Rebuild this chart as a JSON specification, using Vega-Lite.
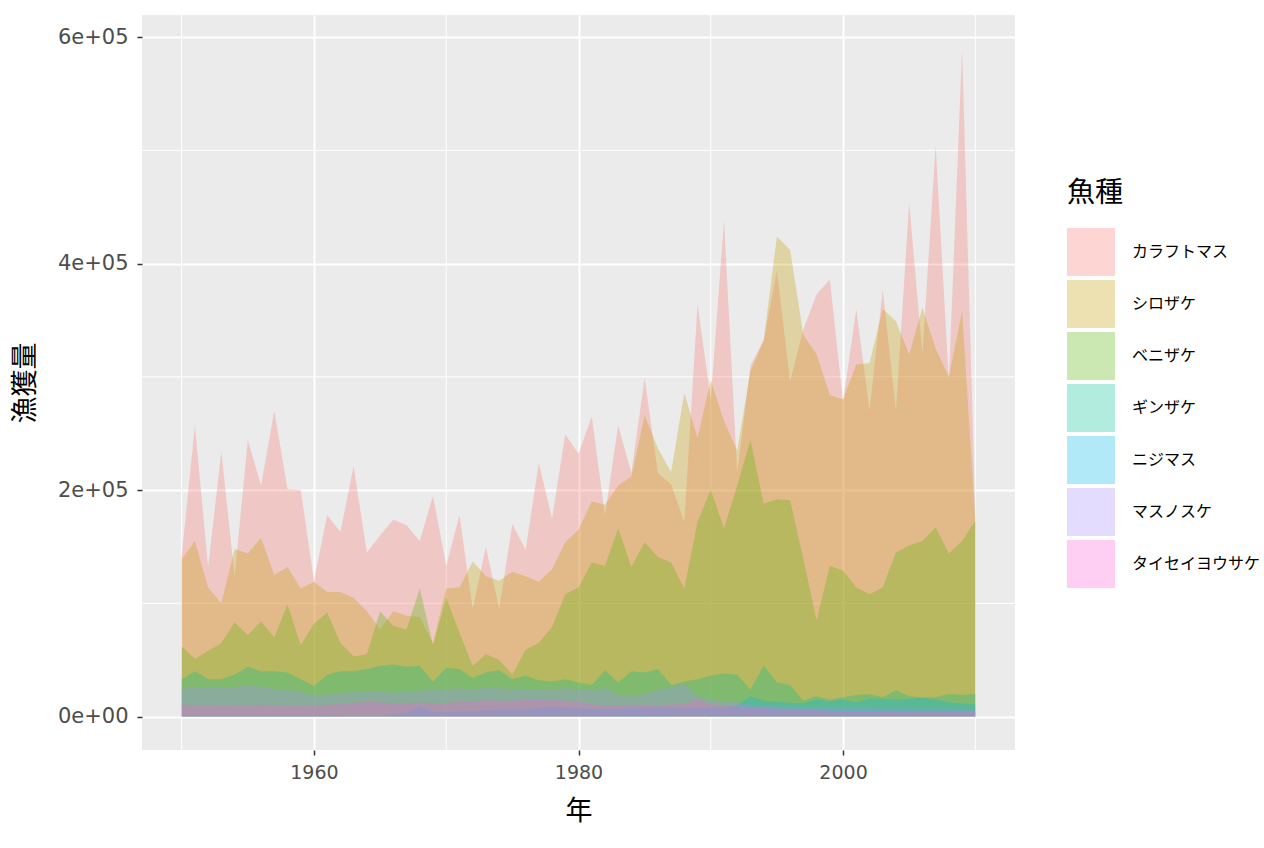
{
  "$schema": "https://vega.github.io/schema/vega-lite/v6.json",
  "width": 873,
  "height": 735,
  "autosize": {"type": "none"},
  "padding": {"left": 142, "top": 15, "right": 249, "bottom": 98},
  "background": "white",
  "config": {
    "view": {"fill": "#EBEBEB", "stroke": null},
    "axis": {
      "domain": false,
      "grid": true,
      "gridColor": "#FFFFFF",
      "gridWidth": 2,
      "tickColor": "#333333",
      "tickWidth": 1.5,
      "tickSize": 5,
      "labelColor": "#4D4D4D",
      "labelFont": "DejaVu Sans",
      "titleFont": "Noto Sans CJK JP",
      "titleFontWeight": "normal",
      "titleColor": "#000000",
      "titleFontSize": 27
    },
    "axisX": {"labelFontSize": 19, "labelPadding": 8, "titlePadding": 16, "labelFlush": false},
    "axisY": {"labelFontSize": 21, "labelPadding": 9, "titlePadding": 18}
  },
  "datasets": {
    "karafuto": [
      {"year":1950,"catch":142000},{"year":1951,"catch":257000},{"year":1952,"catch":132000},{"year":1953,"catch":234000},{"year":1954,"catch":124000},
      {"year":1955,"catch":244000},{"year":1956,"catch":204000},{"year":1957,"catch":270000},{"year":1958,"catch":201000},{"year":1959,"catch":200000},
      {"year":1960,"catch":120000},{"year":1961,"catch":178000},{"year":1962,"catch":163000},{"year":1963,"catch":221000},{"year":1964,"catch":145000},
      {"year":1965,"catch":160000},{"year":1966,"catch":174000},{"year":1967,"catch":169000},{"year":1968,"catch":155000},{"year":1969,"catch":195000},
      {"year":1970,"catch":133000},{"year":1971,"catch":178000},{"year":1972,"catch":95000},{"year":1973,"catch":150000},{"year":1974,"catch":95000},
      {"year":1975,"catch":170000},{"year":1976,"catch":147000},{"year":1977,"catch":224000},{"year":1978,"catch":175000},{"year":1979,"catch":249000},
      {"year":1980,"catch":232000},{"year":1981,"catch":265000},{"year":1982,"catch":178000},{"year":1983,"catch":257000},{"year":1984,"catch":215000},
      {"year":1985,"catch":299000},{"year":1986,"catch":215000},{"year":1987,"catch":205000},{"year":1988,"catch":172000},{"year":1989,"catch":364000},
      {"year":1990,"catch":280000},{"year":1991,"catch":438000},{"year":1992,"catch":215000},{"year":1993,"catch":310000},{"year":1994,"catch":332000},
      {"year":1995,"catch":394000},{"year":1996,"catch":296000},{"year":1997,"catch":342000},{"year":1998,"catch":373000},{"year":1999,"catch":386000},
      {"year":2000,"catch":278000},{"year":2001,"catch":360000},{"year":2002,"catch":270000},{"year":2003,"catch":377000},{"year":2004,"catch":270000},
      {"year":2005,"catch":454000},{"year":2006,"catch":320000},{"year":2007,"catch":504000},{"year":2008,"catch":297000},{"year":2009,"catch":589000},
      {"year":2010,"catch":178000}
    ],
    "shiro": [
      {"year":1950,"catch":139000},{"year":1951,"catch":155000},{"year":1952,"catch":114000},{"year":1953,"catch":100000},{"year":1954,"catch":148000},
      {"year":1955,"catch":144000},{"year":1956,"catch":158000},{"year":1957,"catch":125000},{"year":1958,"catch":132000},{"year":1959,"catch":113000},
      {"year":1960,"catch":119000},{"year":1961,"catch":110000},{"year":1962,"catch":110000},{"year":1963,"catch":105000},{"year":1964,"catch":93000},
      {"year":1965,"catch":77000},{"year":1966,"catch":93000},{"year":1967,"catch":89000},{"year":1968,"catch":88000},{"year":1969,"catch":65000},
      {"year":1970,"catch":113000},{"year":1971,"catch":114000},{"year":1972,"catch":137000},{"year":1973,"catch":124000},{"year":1974,"catch":120000},
      {"year":1975,"catch":128000},{"year":1976,"catch":124000},{"year":1977,"catch":119000},{"year":1978,"catch":130000},{"year":1979,"catch":154000},
      {"year":1980,"catch":165000},{"year":1981,"catch":190000},{"year":1982,"catch":187000},{"year":1983,"catch":204000},{"year":1984,"catch":212000},
      {"year":1985,"catch":266000},{"year":1986,"catch":237000},{"year":1987,"catch":216000},{"year":1988,"catch":286000},{"year":1989,"catch":246000},
      {"year":1990,"catch":297000},{"year":1991,"catch":261000},{"year":1992,"catch":235000},{"year":1993,"catch":305000},{"year":1994,"catch":332000},
      {"year":1995,"catch":424000},{"year":1996,"catch":412000},{"year":1997,"catch":337000},{"year":1998,"catch":320000},{"year":1999,"catch":284000},
      {"year":2000,"catch":280000},{"year":2001,"catch":311000},{"year":2002,"catch":312000},{"year":2003,"catch":360000},{"year":2004,"catch":349000},
      {"year":2005,"catch":320000},{"year":2006,"catch":361000},{"year":2007,"catch":325000},{"year":2008,"catch":300000},{"year":2009,"catch":358000},
      {"year":2010,"catch":175000}
    ],
    "beni": [
      {"year":1950,"catch":62000},{"year":1951,"catch":51000},{"year":1952,"catch":58000},{"year":1953,"catch":65000},{"year":1954,"catch":83000},
      {"year":1955,"catch":72000},{"year":1956,"catch":84000},{"year":1957,"catch":70000},{"year":1958,"catch":99000},{"year":1959,"catch":63000},
      {"year":1960,"catch":82000},{"year":1961,"catch":92000},{"year":1962,"catch":65000},{"year":1963,"catch":53000},{"year":1964,"catch":55000},
      {"year":1965,"catch":93000},{"year":1966,"catch":80000},{"year":1967,"catch":77000},{"year":1968,"catch":113000},{"year":1969,"catch":63000},
      {"year":1970,"catch":105000},{"year":1971,"catch":74000},{"year":1972,"catch":45000},{"year":1973,"catch":55000},{"year":1974,"catch":50000},
      {"year":1975,"catch":37000},{"year":1976,"catch":59000},{"year":1977,"catch":65000},{"year":1978,"catch":79000},{"year":1979,"catch":108000},
      {"year":1980,"catch":114000},{"year":1981,"catch":136000},{"year":1982,"catch":133000},{"year":1983,"catch":166000},{"year":1984,"catch":132000},
      {"year":1985,"catch":154000},{"year":1986,"catch":141000},{"year":1987,"catch":136000},{"year":1988,"catch":113000},{"year":1989,"catch":172000},
      {"year":1990,"catch":200000},{"year":1991,"catch":166000},{"year":1992,"catch":204000},{"year":1993,"catch":244000},{"year":1994,"catch":188000},
      {"year":1995,"catch":192000},{"year":1996,"catch":191000},{"year":1997,"catch":139000},{"year":1998,"catch":85000},{"year":1999,"catch":133000},
      {"year":2000,"catch":129000},{"year":2001,"catch":114000},{"year":2002,"catch":108000},{"year":2003,"catch":114000},{"year":2004,"catch":145000},
      {"year":2005,"catch":151000},{"year":2006,"catch":155000},{"year":2007,"catch":167000},{"year":2008,"catch":144000},{"year":2009,"catch":155000},
      {"year":2010,"catch":173000}
    ],
    "gin": [
      {"year":1950,"catch":33000},{"year":1951,"catch":40000},{"year":1952,"catch":33000},{"year":1953,"catch":33000},{"year":1954,"catch":37000},
      {"year":1955,"catch":44000},{"year":1956,"catch":40000},{"year":1957,"catch":40000},{"year":1958,"catch":39000},{"year":1959,"catch":33000},
      {"year":1960,"catch":27000},{"year":1961,"catch":37000},{"year":1962,"catch":40000},{"year":1963,"catch":40000},{"year":1964,"catch":42000},
      {"year":1965,"catch":45000},{"year":1966,"catch":46000},{"year":1967,"catch":44000},{"year":1968,"catch":45000},{"year":1969,"catch":31000},
      {"year":1970,"catch":43000},{"year":1971,"catch":42000},{"year":1972,"catch":34000},{"year":1973,"catch":39000},{"year":1974,"catch":41000},
      {"year":1975,"catch":33000},{"year":1976,"catch":36000},{"year":1977,"catch":32000},{"year":1978,"catch":31000},{"year":1979,"catch":33000},
      {"year":1980,"catch":30000},{"year":1981,"catch":28000},{"year":1982,"catch":41000},{"year":1983,"catch":30000},{"year":1984,"catch":40000},
      {"year":1985,"catch":39000},{"year":1986,"catch":42000},{"year":1987,"catch":28000},{"year":1988,"catch":31000},{"year":1989,"catch":33000},
      {"year":1990,"catch":36000},{"year":1991,"catch":38000},{"year":1992,"catch":37000},{"year":1993,"catch":24000},{"year":1994,"catch":45000},
      {"year":1995,"catch":30000},{"year":1996,"catch":28000},{"year":1997,"catch":14000},{"year":1998,"catch":18000},{"year":1999,"catch":15000},
      {"year":2000,"catch":17000},{"year":2001,"catch":19000},{"year":2002,"catch":20000},{"year":2003,"catch":17000},{"year":2004,"catch":23000},
      {"year":2005,"catch":18000},{"year":2006,"catch":17000},{"year":2007,"catch":17000},{"year":2008,"catch":20000},{"year":2009,"catch":19000},
      {"year":2010,"catch":20000}
    ],
    "niji": [
      {"year":1950,"catch":1000},{"year":1951,"catch":1000},{"year":1952,"catch":1000},{"year":1953,"catch":1000},{"year":1954,"catch":1000},
      {"year":1955,"catch":1000},{"year":1956,"catch":1000},{"year":1957,"catch":1000},{"year":1958,"catch":1000},{"year":1959,"catch":1000},
      {"year":1960,"catch":1000},{"year":1961,"catch":1000},{"year":1962,"catch":1000},{"year":1963,"catch":1000},{"year":1964,"catch":1000},
      {"year":1965,"catch":1000},{"year":1966,"catch":2000},{"year":1967,"catch":4000},{"year":1968,"catch":9000},{"year":1969,"catch":4000},
      {"year":1970,"catch":4000},{"year":1971,"catch":4500},{"year":1972,"catch":5000},{"year":1973,"catch":5500},{"year":1974,"catch":6000},
      {"year":1975,"catch":6000},{"year":1976,"catch":6500},{"year":1977,"catch":7500},{"year":1978,"catch":9000},{"year":1979,"catch":8000},
      {"year":1980,"catch":7500},{"year":1981,"catch":7000},{"year":1982,"catch":7000},{"year":1983,"catch":7000},{"year":1984,"catch":7500},
      {"year":1985,"catch":8000},{"year":1986,"catch":8000},{"year":1987,"catch":8000},{"year":1988,"catch":7000},{"year":1989,"catch":8000},
      {"year":1990,"catch":8000},{"year":1991,"catch":8000},{"year":1992,"catch":10000},{"year":1993,"catch":18000},{"year":1994,"catch":14000},
      {"year":1995,"catch":13000},{"year":1996,"catch":12000},{"year":1997,"catch":12000},{"year":1998,"catch":15000},{"year":1999,"catch":13600},
      {"year":2000,"catch":15000},{"year":2001,"catch":12700},{"year":2002,"catch":15700},{"year":2003,"catch":15700},{"year":2004,"catch":15000},
      {"year":2005,"catch":15700},{"year":2006,"catch":16600},{"year":2007,"catch":15000},{"year":2008,"catch":12700},{"year":2009,"catch":11500},
      {"year":2010,"catch":10600}
    ],
    "masu": [
      {"year":1950,"catch":24500},{"year":1951,"catch":25600},{"year":1952,"catch":25600},{"year":1953,"catch":25000},{"year":1954,"catch":25600},
      {"year":1955,"catch":28000},{"year":1956,"catch":26600},{"year":1957,"catch":24500},{"year":1958,"catch":23600},{"year":1959,"catch":22000},
      {"year":1960,"catch":19000},{"year":1961,"catch":19500},{"year":1962,"catch":20400},{"year":1963,"catch":22000},{"year":1964,"catch":22000},
      {"year":1965,"catch":22000},{"year":1966,"catch":21000},{"year":1967,"catch":22000},{"year":1968,"catch":23000},{"year":1969,"catch":24000},
      {"year":1970,"catch":24000},{"year":1971,"catch":25000},{"year":1972,"catch":24000},{"year":1973,"catch":25400},{"year":1974,"catch":25000},
      {"year":1975,"catch":24000},{"year":1976,"catch":24000},{"year":1977,"catch":23600},{"year":1978,"catch":24000},{"year":1979,"catch":25000},
      {"year":1980,"catch":24000},{"year":1981,"catch":23600},{"year":1982,"catch":25000},{"year":1983,"catch":19500},{"year":1984,"catch":18000},
      {"year":1985,"catch":20000},{"year":1986,"catch":23600},{"year":1987,"catch":26000},{"year":1988,"catch":29000},{"year":1989,"catch":18000},
      {"year":1990,"catch":15000},{"year":1991,"catch":13600},{"year":1992,"catch":12700},{"year":1993,"catch":10600},{"year":1994,"catch":9500},
      {"year":1995,"catch":9000},{"year":1996,"catch":9000},{"year":1997,"catch":8500},{"year":1998,"catch":8000},{"year":1999,"catch":8000},
      {"year":2000,"catch":7500},{"year":2001,"catch":7500},{"year":2002,"catch":7500},{"year":2003,"catch":7000},{"year":2004,"catch":7000},
      {"year":2005,"catch":7000},{"year":2006,"catch":7000},{"year":2007,"catch":7000},{"year":2008,"catch":7000},{"year":2009,"catch":6500},
      {"year":2010,"catch":6500}
    ],
    "taisei": [
      {"year":1950,"catch":10600},{"year":1951,"catch":10000},{"year":1952,"catch":10000},{"year":1953,"catch":9500},{"year":1954,"catch":10000},
      {"year":1955,"catch":10000},{"year":1956,"catch":10500},{"year":1957,"catch":10000},{"year":1958,"catch":10000},{"year":1959,"catch":9500},
      {"year":1960,"catch":10000},{"year":1961,"catch":10500},{"year":1962,"catch":11000},{"year":1963,"catch":12000},{"year":1964,"catch":13600},
      {"year":1965,"catch":12500},{"year":1966,"catch":12000},{"year":1967,"catch":12000},{"year":1968,"catch":12500},{"year":1969,"catch":12000},
      {"year":1970,"catch":12000},{"year":1971,"catch":13000},{"year":1972,"catch":13500},{"year":1973,"catch":14500},{"year":1974,"catch":14000},
      {"year":1975,"catch":14000},{"year":1976,"catch":15000},{"year":1977,"catch":15000},{"year":1978,"catch":15000},{"year":1979,"catch":14000},
      {"year":1980,"catch":13000},{"year":1981,"catch":11000},{"year":1982,"catch":10000},{"year":1983,"catch":10000},{"year":1984,"catch":10000},
      {"year":1985,"catch":10600},{"year":1986,"catch":10000},{"year":1987,"catch":10600},{"year":1988,"catch":11000},{"year":1989,"catch":15000},
      {"year":1990,"catch":11000},{"year":1991,"catch":10000},{"year":1992,"catch":9000},{"year":1993,"catch":8000},{"year":1994,"catch":7500},
      {"year":1995,"catch":7000},{"year":1996,"catch":6500},{"year":1997,"catch":6000},{"year":1998,"catch":5500},{"year":1999,"catch":5000},
      {"year":2000,"catch":5000},{"year":2001,"catch":4500},{"year":2002,"catch":4500},{"year":2003,"catch":4000},{"year":2004,"catch":4000},
      {"year":2005,"catch":4000},{"year":2006,"catch":4000},{"year":2007,"catch":4000},{"year":2008,"catch":4000},{"year":2009,"catch":4000},
      {"year":2010,"catch":4000}
    ]
  },
  "layer": [
    {
      "data": {"values": [{"year": 1950}, {"year": 1970}, {"year": 1990}, {"year": 2010}]},
      "mark": {"type": "rule", "color": "#FFFFFF", "strokeWidth": 1},
      "encoding": {
        "x": {
          "field": "year",
          "type": "quantitative",
          "title": "年",
          "scale": {"domain": [1947, 2013], "nice": false, "zero": false},
          "axis": {"values": [1960, 1980, 2000], "format": "d"}
        }
      }
    },
    {
      "data": {"values": [{"catch": 100000}, {"catch": 300000}, {"catch": 500000}]},
      "mark": {"type": "rule", "color": "#FFFFFF", "strokeWidth": 1},
      "encoding": {
        "y": {
          "field": "catch",
          "type": "quantitative",
          "title": "漁獲量",
          "scale": {"domain": [-29500, 619500], "nice": false, "zero": false},
          "axis": {
            "values": [0, 200000, 400000, 600000],
            "labelExpr": "datum.value == 0 ? '0e+00' : format(datum.value / 100000, 'd') + 'e+05'"
          }
        }
      }
    },
    {
      "data": {"name": "karafuto"},
      "mark": {"type": "area", "opacity": 0.3},
      "encoding": {
        "x": {"field": "year", "type": "quantitative", "title": "年"},
        "y": {"field": "catch", "type": "quantitative", "title": "漁獲量", "stack": null},
        "color": {
          "datum": "カラフトマス",
          "type": "nominal",
          "scale": {
            "domain": ["カラフトマス", "シロザケ", "ベニザケ", "ギンザケ", "ニジマス", "マスノスケ", "タイセイヨウサケ"],
            "range": ["#F8766D", "#C49A00", "#53B400", "#00C094", "#00B6EB", "#A58AFF", "#FB61D7"]
          },
          "legend": {
            "title": "魚種",
            "orient": "none",
            "legendX": 925,
            "legendY": 165,
            "padding": 0,
            "titleFont": "Noto Sans CJK JP",
            "titleFontSize": 28,
            "titleFontWeight": "normal",
            "titleColor": "#000000",
            "titlePadding": 20,
            "labelFont": "Noto Sans CJK JP",
            "labelFontSize": 16,
            "labelColor": "#000000",
            "labelOffset": 17,
            "labelLimit": 200,
            "symbolType": "square",
            "symbolSize": 2304,
            "symbolOpacity": 0.36,
            "symbolStrokeWidth": 0,
            "rowPadding": 4
          }
        }
      }
    },
    {
      "data": {"name": "shiro"},
      "mark": {"type": "area", "opacity": 0.3},
      "encoding": {
        "x": {"field": "year", "type": "quantitative", "title": "年"},
        "y": {"field": "catch", "type": "quantitative", "title": "漁獲量", "stack": null},
        "color": {"datum": "シロザケ", "type": "nominal"}
      }
    },
    {
      "data": {"name": "beni"},
      "mark": {"type": "area", "opacity": 0.3},
      "encoding": {
        "x": {"field": "year", "type": "quantitative", "title": "年"},
        "y": {"field": "catch", "type": "quantitative", "title": "漁獲量", "stack": null},
        "color": {"datum": "ベニザケ", "type": "nominal"}
      }
    },
    {
      "data": {"name": "gin"},
      "mark": {"type": "area", "opacity": 0.3},
      "encoding": {
        "x": {"field": "year", "type": "quantitative", "title": "年"},
        "y": {"field": "catch", "type": "quantitative", "title": "漁獲量", "stack": null},
        "color": {"datum": "ギンザケ", "type": "nominal"}
      }
    },
    {
      "data": {"name": "niji"},
      "mark": {"type": "area", "opacity": 0.3},
      "encoding": {
        "x": {"field": "year", "type": "quantitative", "title": "年"},
        "y": {"field": "catch", "type": "quantitative", "title": "漁獲量", "stack": null},
        "color": {"datum": "ニジマス", "type": "nominal"}
      }
    },
    {
      "data": {"name": "masu"},
      "mark": {"type": "area", "opacity": 0.3},
      "encoding": {
        "x": {"field": "year", "type": "quantitative", "title": "年"},
        "y": {"field": "catch", "type": "quantitative", "title": "漁獲量", "stack": null},
        "color": {"datum": "マスノスケ", "type": "nominal"}
      }
    },
    {
      "data": {"name": "taisei"},
      "mark": {"type": "area", "opacity": 0.3},
      "encoding": {
        "x": {"field": "year", "type": "quantitative", "title": "年"},
        "y": {"field": "catch", "type": "quantitative", "title": "漁獲量", "stack": null},
        "color": {"datum": "タイセイヨウサケ", "type": "nominal"}
      }
    }
  ]
}
